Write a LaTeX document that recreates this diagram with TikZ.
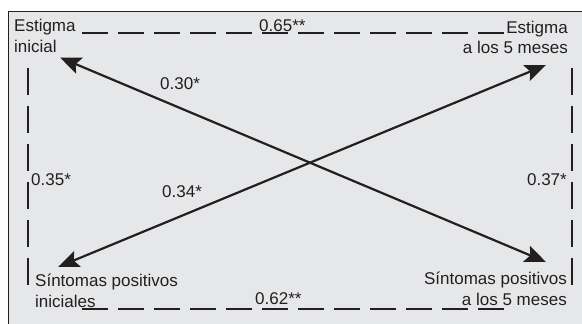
\documentclass[tikz,border=0pt]{standalone}
\usepackage{fontspec}
\setmainfont{Liberation Sans}
\usetikzlibrary{arrows.meta}
\definecolor{ink}{HTML}{231F20}
\definecolor{panel}{HTML}{E6E7E8}
\begin{document}
\begin{tikzpicture}[x=1pt,y=-1pt,
  lbl/.style={inner sep=0pt, font=\fontsize{17}{20.5}\selectfont, text=ink},
  hdash/.style={draw=ink, line width=2.6pt, dash pattern=on 26pt off 10pt},
  vdash/.style={draw=ink, line width=2.6pt, dash pattern=on 27pt off 11pt},
  link/.style={draw=ink, line width=2.2pt, {Stealth[length=21pt,width=17pt,inset=4pt]}-{Stealth[length=21pt,width=17pt,inset=4pt]}}]
\useasboundingbox (0,0) rectangle (582,324);
\begin{scope}
\clip (0,0) rectangle (582,324);
\draw[fill=panel, draw=ink, line width=1pt] (8,11) rectangle (600,340);
\end{scope}
% variable labels (base anchor = baseline of last line)
\node[lbl, anchor=base west, align=left] (ei) at (14,52.3) {Estigma\\inicial};
\node[lbl, anchor=base east, align=right] (e5) at (568,53.5) {Estigma\\a los 5 meses};
\node[lbl, anchor=base west, align=left] (si) at (35,307.3) {Síntomas positivos\\iniciales};
\node[lbl, anchor=base east, align=right] (s5) at (567,305) {Síntomas positivos\\a los 5 meses};
% connector ends
\coordinate (t1) at (82,33);  \coordinate (t2) at (504,33);
\coordinate (b1) at (82,309); \coordinate (b2) at (504,309);
\coordinate (l1) at (28,68);  \coordinate (l2) at (28,285);
\coordinate (r1) at (572,68); \coordinate (r2) at (572,285);
\coordinate (a1) at (60,57.5);  \coordinate (a2) at (546,262);
\coordinate (c1) at (58,267);   \coordinate (c2) at (546,65);
% dashed links
\draw[hdash] (t1) -- (t2);
\draw[hdash] (b1) -- (b2);
\draw[vdash] (l1) -- (l2);
\draw[vdash] (r1) -- (r2);
% cross links
\draw[link] (a1) -- (a2);
\draw[link] (c1) -- (c2);
% coefficients
\node[lbl, anchor=base west] (k65) at (259,31) {0.65**};
\node[lbl, anchor=base west] (k62) at (255,304) {0.62**};
\node[lbl, anchor=base west] (k35) at (31,185) {0.35*};
\node[lbl, anchor=base east] (k37) at (567,185) {0.37*};
\node[lbl, anchor=base west] (k30) at (160,89) {0.30*};
\node[lbl, anchor=base west] (k34) at (162,197.3) {0.34*};
\end{tikzpicture}
\end{document}
